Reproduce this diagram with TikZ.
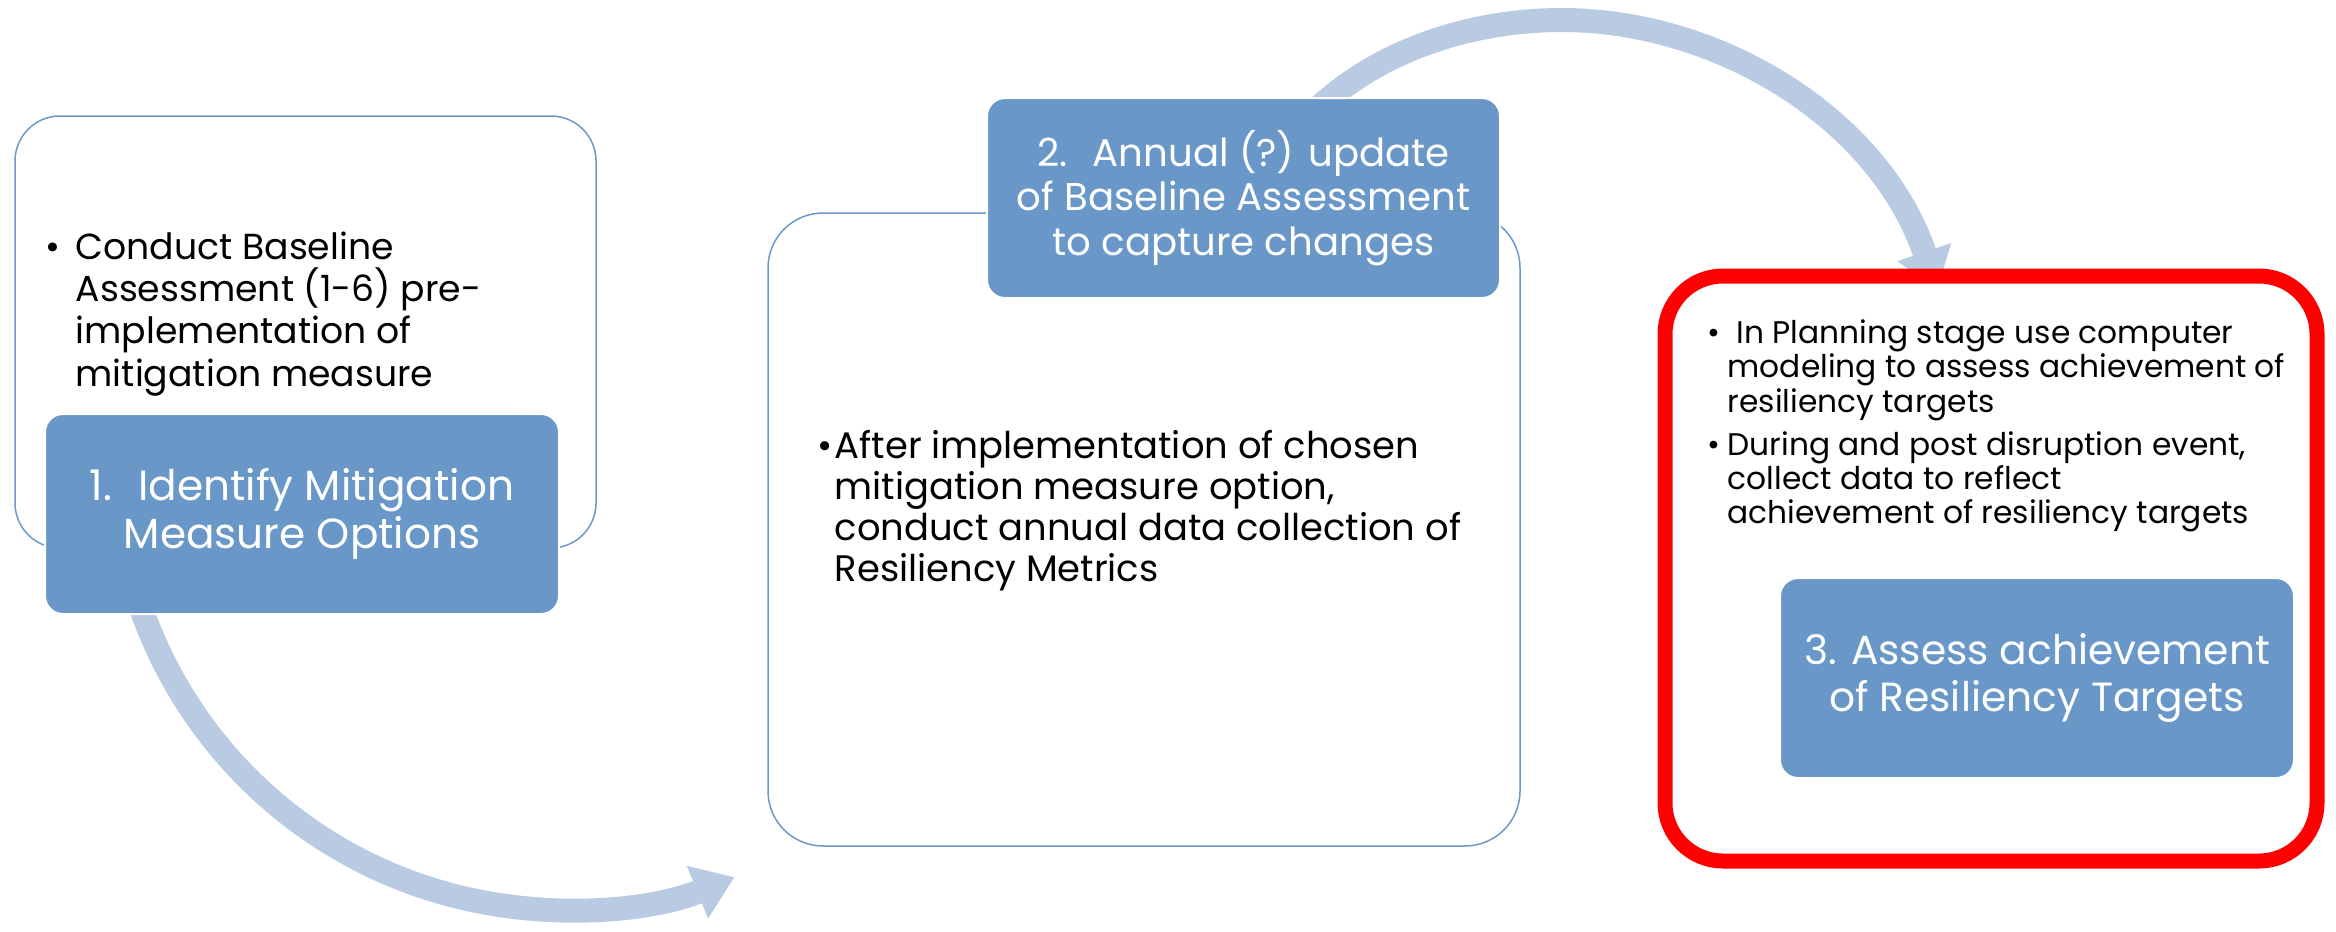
\documentclass[tikz,border=0pt]{standalone}
\usepackage{fontspec}
\setmainfont{Poppins}
\usetikzlibrary{arrows.meta}
\definecolor{boxblue}{RGB}{104,151,200}
\definecolor{lineblue}{RGB}{108,152,202}
\definecolor{arrowblue}{RGB}{185,202,227}
\definecolor{redline}{RGB}{255,0,0}
\begin{document}
\begin{tikzpicture}[x=0.1mm,y=-0.1mm,
  outbox/.style={draw=lineblue, line width=0.15mm, fill=white, rounded corners=4.5mm, inner sep=0},
  bluebox/.style={draw=white, line width=0.2mm, fill=boxblue, rounded corners=1.8mm, text=white, align=center, inner sep=0},
  redbox/.style={draw=redline, line width=1.5mm, fill=white, rounded corners=5.8mm, inner sep=0},
  flow/.style={draw=arrowblue, line width=2.4mm, -{Triangle[length=4mm,width=5.4mm]}},
  body/.style={align=left, inner sep=0, anchor=north west, text=black}
]
\useasboundingbox (0,0) rectangle (2336,931);

% arrow 1 (behind box 1)
\coordinate (a1s) at (138,599);
\draw[flow] (a1s) arc[start angle=162, end angle=68, radius=450];

% box 1
\node[outbox, minimum width=58.1mm, minimum height=43.2mm] (b1) at (305.5,332) {};
\node[body, font=\fontsize{10.3}{12.05}\selectfont] (t1) at (75,231)
  {\llap{\textbullet\hspace{1.5mm}}Conduct Baseline\\Assessment (1-6) pre-\\implementation of\\mitigation measure};
\node[bluebox, minimum width=51.4mm, minimum height=20mm, font=\fontsize{12}{13.6}\selectfont] (s1) at (302,514)
  {1.\hspace{2.6mm}Identify Mitigation\\Measure Options};

% box 2
\node[outbox, minimum width=75.2mm, minimum height=63.3mm, rounded corners=5.5mm] (b2) at (1144,529.5) {};
\node[body, font=\fontsize{10.5}{11.67}\selectfont] (t2) at (834,430)
  {\llap{\textbullet\hspace{0.2mm}}After implementation of chosen\\mitigation measure option,\\conduct annual data collection of\\Resiliency Metrics};

% arrow 2 (behind blue box 2, under red box)
\coordinate (a2s) at (1316,110);
\coordinate (a2top) at (1562,20);
\coordinate (a2e) at (1937,290);
\draw[flow] (a2s) .. controls (1385,45) and (1480,20) .. (a2top)
  .. controls (1720,20) and (1880,120) .. (a2e);

\node[bluebox, minimum width=51.3mm, minimum height=20mm, font=\fontsize{11}{12.6}\selectfont] (s2) at (1243.5,198)
  {2.\hspace{2.5mm}Annual (?) update\\of Baseline Assessment\\to capture changes};

% box 3
\node[redbox, minimum width=65.2mm, minimum height=58.5mm] (b3) at (1991,568.5) {};
\node[body, font=\fontsize{8.9}{9.8}\selectfont] (t3) at (1727,318.8)
  {\llap{\textbullet\hspace{0.7mm}}\hspace{0.9mm}In Planning stage use computer\\modeling to assess achievement of\\resiliency targets\\[2.4pt]\llap{\textbullet\hspace{0.7mm}}During and post disruption event,\\collect data to reflect\\achievement of resiliency targets};
\node[bluebox, minimum width=51.4mm, minimum height=20mm, font=\fontsize{11.6}{13.3}\selectfont] (s3) at (2037,678)
  {3. Assess achievement\\of Resiliency Targets};
\end{tikzpicture}
\end{document}
